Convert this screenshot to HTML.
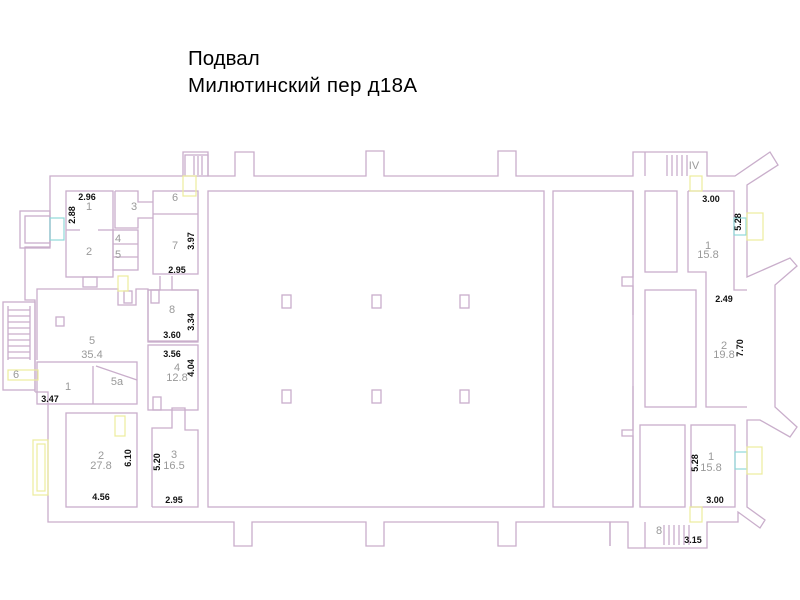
<!DOCTYPE html>
<html><head><meta charset="utf-8"><style>
html,body{margin:0;padding:0;background:#fff;}
svg{display:block;}
.w{fill:none;stroke:#c9aecb;stroke-width:1.3;}
.y{fill:none;stroke:#ecec9c;stroke-width:1.2;}
.c{fill:none;stroke:#8fd8d8;stroke-width:1.2;}
.t{font-family:"Liberation Sans",sans-serif;fill:#999;font-size:11px;text-anchor:middle;}
.d{font-family:"Liberation Sans",sans-serif;fill:#111;font-size:9px;font-weight:bold;text-anchor:middle;}
</style></head><body>
<svg width="800" height="600" viewBox="0 0 800 600" xmlns="http://www.w3.org/2000/svg">
<text x="188" y="65" font-family="Liberation Sans, sans-serif" font-size="20.5" fill="#000">Подвал</text>
<text x="188" y="92" font-family="Liberation Sans, sans-serif" font-size="20.5" fill="#000" textLength="229">Милютинский пер д18А</text>

<!-- outer wall outline -->
<polyline class="w" points="50,247 50,176 183,176 183,152 208,152 208,176 235,176 235,152 254,152 254,176 366,176 366,151 384,151 384,176 498,176 498,151 516,151 516,176 633,176 633,152 707,152 707,176 735,176 770,152 778,165 747,185 747,277 790,258 797,266 775,285 775,407 797,427 790,437 760,420 747,420 747,507 765,520 760,528 738,512 738,522 707,522 707,548 628,548 628,522 610,522 610,546"/>
<polyline class="w" points="610,546 610,522 516,522 516,546 498,546 498,522 384,522 384,546 366,546 366,522 252,522 252,546 234,546 234,522 48,522 48,392 35,392"/>
<polyline class="w" points="35,392 35,300 25,300 25,290 25,247 50,247"/>
<line class="w" x1="645" y1="152" x2="645" y2="176"/>
<line class="w" x1="645" y1="522" x2="645" y2="548"/>
<!-- left porch -->
<rect class="w" x="20" y="211" width="30" height="37"/>
<rect class="w" x="25" y="216" width="25" height="27"/>
<rect class="c" x="50" y="218" width="14" height="22"/>
<!-- left stairs -->
<rect class="w" x="3" y="302" width="32" height="88"/>
<g class="w">
<line x1="8" y1="310" x2="30" y2="310"/><line x1="8" y1="316" x2="30" y2="316"/><line x1="8" y1="322" x2="30" y2="322"/><line x1="8" y1="328" x2="30" y2="328"/><line x1="8" y1="334" x2="30" y2="334"/><line x1="8" y1="340" x2="30" y2="340"/><line x1="8" y1="346" x2="30" y2="346"/><line x1="8" y1="352" x2="30" y2="352"/><line x1="8" y1="358" x2="30" y2="358"/>
<line x1="8" y1="306" x2="8" y2="360"/><line x1="30" y1="306" x2="30" y2="360"/>
</g>
<rect class="y" x="33" y="440" width="15" height="55"/>
<rect class="y" x="37" y="444" width="8" height="47"/>

<!-- left rooms -->
<rect class="w" x="66" y="191" width="47" height="86"/>
<line class="w" x1="66" y1="230" x2="80" y2="230"/><line class="w" x1="98" y1="230" x2="113" y2="230"/>
<rect class="w" x="83" y="277" width="14" height="10"/>
<polyline class="w" points="115,191 138,191 138,202 153,202"/>
<polyline class="w" points="115,191 115,228 138,228 138,218 153,218"/>
<rect class="w" x="113" y="230" width="25" height="40"/>
<line class="w" x1="113" y1="244" x2="138" y2="244"/><line class="w" x1="113" y1="257" x2="138" y2="257"/>
<rect class="w" x="153" y="191" width="45" height="83"/>
<line class="w" x1="153" y1="214" x2="198" y2="214"/>
<polyline class="w" points="37,360 37,289 118,289 118,305 136,305 136,289 148,289 148,341 198,341"/>
<polyline class="w" points="172,276 172,290 198,290 198,341"/>
<polyline class="w" points="160,276 160,290 148,290"/>
<rect class="w" x="148" y="290" width="50" height="52"/>
<rect class="w" x="148" y="345" width="50" height="65"/>
<rect class="w" x="37" y="362" width="100" height="42"/>
<line class="w" x1="96" y1="366" x2="137" y2="380"/>
<line class="w" x1="93" y1="366" x2="93" y2="404"/>
<rect class="w" x="66" y="413" width="71" height="94"/>
<polyline class="w" points="152,507 152,428 172,428 172,408 185,408 185,430 198,430 198,507 152,507"/>
<rect class="w" x="56" y="317" width="8" height="9"/>
<rect class="w" x="151" y="290" width="8" height="13"/>
<rect class="w" x="153" y="397" width="8" height="13"/>
<rect class="w" x="124" y="291" width="8" height="12"/>
<rect class="w" x="185" y="155" width="23" height="21"/>
<g class="w"><line x1="198" y1="156" x2="198" y2="175"/><line x1="202" y1="156" x2="202" y2="175"/><line x1="194" y1="156" x2="194" y2="175"/></g>
<rect class="y" x="183" y="176" width="13" height="20"/>
<rect class="y" x="115" y="416" width="10" height="20"/>
<rect class="y" x="118" y="276" width="10" height="15"/>
<rect class="y" x="8" y="370" width="30" height="10"/>

<!-- middle -->
<rect class="w" x="208" y="191" width="336" height="316"/>
<rect class="w" x="553" y="191" width="80" height="316"/>
<rect class="w" x="282" y="295" width="9" height="13"/><rect class="w" x="372" y="295" width="9" height="13"/><rect class="w" x="460" y="295" width="9" height="13"/>
<rect class="w" x="282" y="390" width="9" height="13"/><rect class="w" x="372" y="390" width="9" height="13"/><rect class="w" x="460" y="390" width="9" height="13"/>
<polyline class="w" points="633,191 633,277 622,277 622,286 633,286 633,315"/>
<polyline class="w" points="633,386 633,430 622,430 622,436 633,436 633,507"/>

<!-- right area -->
<rect class="w" x="645" y="191" width="32" height="81"/>
<rect class="w" x="645" y="290" width="51" height="117"/>
<rect class="w" x="640" y="425" width="45" height="82"/>
<polyline class="w" points="688,191 734,191 734,290 747,290"/>
<polyline class="w" points="688,191 688,272 706,272 706,407 747,407"/>
<rect class="w" x="691" y="425" width="44" height="82"/>
<rect class="c" x="734" y="218" width="12" height="17"/>
<rect class="y" x="747" y="213" width="16" height="27"/>
<rect class="c" x="735" y="452" width="12" height="17"/>
<rect class="y" x="747" y="447" width="15" height="27"/>
<rect class="y" x="690" y="176" width="12" height="15"/>
<rect class="y" x="690" y="507" width="12" height="15"/>
<g class="w">
<line x1="667" y1="155" x2="667" y2="176"/><line x1="672" y1="155" x2="672" y2="176"/><line x1="677" y1="155" x2="677" y2="176"/><line x1="682" y1="155" x2="682" y2="176"/><line x1="687" y1="155" x2="687" y2="176"/>
<line x1="664" y1="525" x2="664" y2="545"/><line x1="669" y1="525" x2="669" y2="545"/><line x1="674" y1="525" x2="674" y2="545"/><line x1="679" y1="525" x2="679" y2="545"/><line x1="684" y1="525" x2="684" y2="545"/><line x1="689" y1="525" x2="689" y2="545"/>
</g>

<!-- labels -->
<text class="t" x="89" y="210">1</text><text class="t" x="89" y="255">2</text>
<text class="t" x="134" y="210">3</text><text class="t" x="118" y="242">4</text><text class="t" x="118" y="258">5</text>
<text class="t" x="175" y="201">6</text><text class="t" x="175" y="249">7</text><text class="t" x="172" y="313">8</text>
<text class="t" x="92" y="344">5</text><text class="t" x="92" y="358">35.4</text>
<text class="t" x="68" y="390">1</text><text class="t" x="117" y="385">5а</text>
<text class="t" x="177" y="371">4</text><text class="t" x="177" y="381">12.8</text>
<text class="t" x="101" y="459">2</text><text class="t" x="101" y="469">27.8</text>
<text class="t" x="174" y="458">3</text><text class="t" x="174" y="469">16.5</text>
<text class="t" x="708" y="249">1</text><text class="t" x="708" y="252" dy="6">15.8</text>
<text class="t" x="724" y="349">2</text><text class="t" x="724" y="358">19.8</text>
<text class="t" x="711" y="460">1</text><text class="t" x="711" y="471">15.8</text>
<text class="t" x="16" y="378">6</text><text class="t" x="694" y="169">IV</text><text class="t" x="659" y="534">8</text>

<text class="d" x="87" y="200">2.96</text>
<text class="d" x="75" y="215" transform="rotate(-90 75 215)">2.88</text>
<text class="d" x="194" y="241" transform="rotate(-90 194 241)">3.97</text>
<text class="d" x="177" y="273">2.95</text>
<text class="d" x="194" y="322" transform="rotate(-90 194 322)">3.34</text>
<text class="d" x="172" y="338">3.60</text>
<text class="d" x="172" y="357">3.56</text>
<text class="d" x="194" y="368" transform="rotate(-90 194 368)">4.04</text>
<text class="d" x="50" y="402">3.47</text>
<text class="d" x="131" y="458" transform="rotate(-90 131 458)">6.10</text>
<text class="d" x="101" y="500">4.56</text>
<text class="d" x="160" y="462" transform="rotate(-90 160 462)">5.20</text>
<text class="d" x="174" y="503">2.95</text>
<text class="d" x="711" y="202">3.00</text>
<text class="d" x="741" y="222" transform="rotate(-90 741 222)">5.28</text>
<text class="d" x="724" y="302">2.49</text>
<text class="d" x="743" y="348" transform="rotate(-90 743 348)">7.70</text>
<text class="d" x="698" y="463" transform="rotate(-90 698 463)">5.28</text>
<text class="d" x="715" y="503">3.00</text>
<text class="d" x="693" y="543">3.15</text>
</svg>
</body></html>
